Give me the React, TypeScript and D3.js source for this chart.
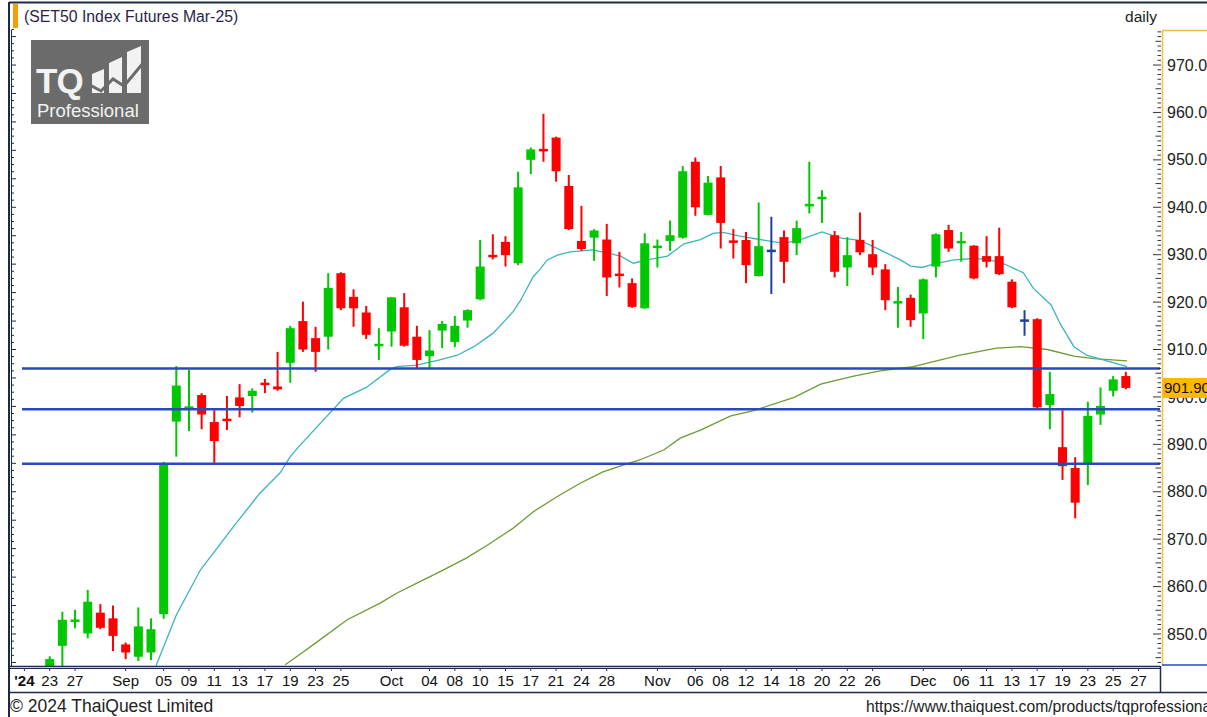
import React from 'react';
import * as d3 from 'd3';

// ---------- DATA ----------
const dates = [
  '2024-08-23','2024-08-26','2024-08-27','2024-08-28','2024-08-29','2024-08-30',
  '2024-09-02','2024-09-03','2024-09-04','2024-09-05','2024-09-06','2024-09-09','2024-09-10','2024-09-11','2024-09-12','2024-09-13',
  '2024-09-16','2024-09-17','2024-09-18','2024-09-19','2024-09-20','2024-09-23','2024-09-24','2024-09-25','2024-09-26','2024-09-27','2024-09-30',
  '2024-10-01','2024-10-02','2024-10-03','2024-10-04','2024-10-07','2024-10-08','2024-10-09','2024-10-10','2024-10-11','2024-10-15',
  '2024-10-16','2024-10-17','2024-10-18','2024-10-21','2024-10-22','2024-10-24','2024-10-25','2024-10-28','2024-10-29','2024-10-30','2024-10-31',
  '2024-11-01','2024-11-04','2024-11-05','2024-11-06','2024-11-07','2024-11-08','2024-11-11','2024-11-12','2024-11-13','2024-11-14','2024-11-15',
  '2024-11-18','2024-11-19','2024-11-20','2024-11-21','2024-11-22','2024-11-25','2024-11-26','2024-11-27','2024-11-28','2024-11-29',
  '2024-12-02','2024-12-03','2024-12-04','2024-12-06','2024-12-09','2024-12-11','2024-12-12','2024-12-13','2024-12-16','2024-12-17',
  '2024-12-18','2024-12-19','2024-12-20','2024-12-23','2024-12-24','2024-12-25','2024-12-26'
];
const opens = [
  842.0,847.5,852.6,850.1,854.5,853.3,847.8,845.2,846.1,854.2,894.8,897.6,900.4,894.7,895.3,899.9,
  900.2,902.9,902.2,907.2,916.0,912.4,912.7,926.1,921.1,917.8,910.8,913.8,918.9,912.7,908.6,914.0,
  911.6,916.1,920.6,929.9,932.7,928.2,950.0,952.2,954.7,944.5,932.9,933.6,933.2,926.0,924.0,918.7,
  931.5,932.9,933.6,949.6,938.4,946.3,933.0,933.1,925.5,930.8,933.7,932.4,940.3,941.8,934.1,927.3,
  933.1,930.1,926.9,919.8,920.9,917.6,927.5,935.2,932.5,931.9,929.7,929.7,924.3,916.1,916.4,898.3,
  889.4,885.0,886.0,896.3,901.3,904.4
];
const highs = [
  845.3,854.7,855.1,859.3,856.3,856.0,848.2,855.6,853.3,886.3,906.5,905.7,900.8,897.2,900.2,902.7,
  901.8,903.8,909.5,915.0,920.1,914.8,926.1,926.3,922.7,919.2,914.5,921.1,921.9,915.0,914.1,916.0,
  917.1,918.5,933.1,934.3,933.9,947.5,952.6,959.7,954.9,946.8,940.3,935.4,936.5,930.6,925.0,934.5,
  933.2,937.2,948.7,950.5,946.6,948.7,935.4,934.8,941.0,938.0,935.1,937.2,949.6,943.6,935.0,933.7,
  938.9,933.1,928.0,923.2,921.6,925.0,934.5,936.3,934.8,932.0,933.9,935.7,924.8,918.3,916.6,905.3,
  897.2,887.3,899.0,902.0,904.4,905.3
];
const lows = [
  840.0,842.0,851.2,849.1,851.0,846.4,844.7,844.3,844.5,853.2,887.4,892.8,893.2,886.1,893.0,895.7,
  896.7,900.8,901.3,903.0,909.5,905.3,910.0,918.3,914.8,912.2,907.8,910.6,910.6,906.0,906.0,910.3,
  910.5,914.6,920.4,929.0,927.5,927.8,947.0,949.6,945.4,935.2,930.8,928.7,921.3,923.1,918.8,918.6,
  927.3,930.8,933.4,938.2,938.3,931.3,929.2,924.0,925.4,921.7,924.0,929.9,938.7,936.7,925.2,923.4,
  929.9,925.7,918.3,914.6,914.8,912.2,925.2,930.6,928.5,924.8,927.3,925.7,918.7,912.9,897.6,893.2,
  882.5,874.4,881.4,894.1,900.1,901.6
];
const closes = [
  844.7,853.0,853.0,856.8,851.3,849.6,846.1,851.6,851.0,885.8,902.4,897.9,896.3,890.7,895.0,898.1,
  901.3,902.6,901.6,914.5,910.0,909.5,923.0,918.7,918.7,913.1,911.1,921.0,910.8,907.8,909.8,915.4,
  915.0,918.3,927.5,929.5,929.9,944.2,952.2,951.9,947.6,935.4,931.2,935.1,925.2,925.5,919.0,932.4,
  931.8,934.1,947.6,940.0,945.2,936.7,932.5,927.8,931.8,930.8,928.5,935.6,940.6,942.1,926.4,929.9,
  930.5,927.3,920.4,920.1,916.2,924.8,934.3,931.3,932.8,925.0,928.5,925.9,918.9,916.1,897.8,900.6,
  885.4,877.7,896.0,898.1,903.7,901.9
];

// fast moving average (cyan): bar position / value
const maFastPos = [8.4,10.0,11.9,14.5,16.6,18.2,19.0,19.8,23.2,25.0,26.9,27.4,29.0,30.8,32.2,33.5,35.0,36.0,36.6,37.2,38.2,38.7,39.3,40.1,41.1,42.9,44.0,45.1,46.1,47.2,48.8,50.1,51.4,52.4,53.2,54.5,56.1,58.0,59.3,61.0,62.5,64.0,65.6,67.2,68.0,68.9,69.8,71.4,73.0,74.0,75.1,76.9,77.7,79.1,79.8,80.9,81.9,83.5,85.1];
const maFastVal = [843.3,854.0,863.5,872.6,879.7,884.0,887.4,889.9,899.7,902.0,905.8,906.4,906.7,907.8,908.8,910.6,913.4,916.2,918.0,920.4,925.4,926.8,928.9,929.9,930.6,931.0,930.4,929.7,928.2,928.9,929.7,932.3,933.2,934.5,934.7,933.9,933.2,932.4,933.2,934.8,933.5,933.0,931.0,928.9,927.6,927.3,928.0,928.9,929.2,929.0,928.4,926.2,922.9,919.4,915.5,910.6,908.8,907.6,906.4];
// slow moving average (olive)
const maSlowPos = [18.6,19.8,20.8,23.5,26.1,27.4,29.2,30.8,32.9,34.5,36.6,38.2,40.1,41.9,43.7,45.3,46.6,48.5,49.8,51.4,53.8,55.6,58.8,60.9,63.5,65.6,68.2,71.9,74.8,76.7,78.8,80.9,82.5,85.1];
const maSlowVal = [843.5,845.8,847.7,853.0,856.5,858.6,861.0,863.1,866.0,868.6,872.3,875.8,879.0,881.8,884.2,885.6,886.7,888.8,891.3,893.0,896.0,897.1,899.9,902.7,904.4,905.5,906.4,908.8,910.3,910.6,910.0,908.6,908.1,907.6];

const supportLevels = [906.0, 897.4, 885.9];
const lastPrice = 901.9;

const tickIndex = [-2,0,2,6,9,11,13,15,17,19,21,23,27,30,32,34,36,38,40,42,44,48,51,53,55,57,59,61,63,65,69,72,74,76,78,80,82,84,86];
const tickLabels = ["'24",'23','27','Sep','05','09','11','13','17','19','23','25','Oct','04','08','10','15','17','21','24','28','Nov','06','08','12','14','18','20','22','26','Dec','06','11','13','17','19','23','25','27'];
const priceTicks = [850,860,870,880,890,900,910,920,930,940,950,960,970];

// ---------- LAYOUT ----------
const W = 1207, H = 717;
const PL = 13, PR = 1160, PT = 29, PB = 666;
const FONT = "'Liberation Sans', Arial, sans-serif";

export default function App() {
  const x = d3.scaleLinear().domain([-2.9, 87.7]).range([PL, PR]);
  const y = d3.scaleLinear().domain([843.25, 977.6]).range([PB, PT]);

  const lineGen = d3.line<[number, number]>().x(d => x(d[0])).y(d => y(d[1]));
  const fastPts = maFastPos.map((p, i) => [p, maFastVal[i]] as [number, number]);
  const slowPts = maSlowPos.map((p, i) => [p, maSlowVal[i]] as [number, number]);

  const minorRight = d3.range(844, 978, 1);
  const minorLeft = d3.range(844, 978, 1.5);

  const bodyW = 9;

  return (
    <svg width={W} height={H} style={{ position: 'absolute', left: 0, top: 0, display: 'block', background: '#fff' }}
      fontFamily={FONT}>
      <defs>
        <clipPath id="plot"><rect x={PL} y={PT} width={PR - PL} height={PB - PT} /></clipPath>
        <clipPath id="page"><rect x={0} y={0} width={W} height={H} /></clipPath>
      </defs>
      <rect x={0} y={0} width={W} height={H} fill="#fff" />

      {/* outer frame */}
      <line x1={9} x2={W} y1={2.5} y2={2.5} stroke="#1c2a4a" strokeWidth={2} />
      <line x1={9} x2={9} y1={2} y2={H} stroke="#1c2a4a" strokeWidth={2} />
      <line x1={11.5} x2={11.5} y1={30} y2={PB} stroke="#1c2a4a" strokeWidth={1} />

      {/* title */}
      <rect x={13} y={4} width={5} height={24} fill="#f5a000" />
      <text x={24} y={22} fontSize={15.8} fill="#2a1f4a">(SET50 Index Futures Mar-25)</text>
      <text x={1157} y={22} fontSize={15.5} fill="#222" textAnchor="end">daily</text>

      {/* logo */}
      <g>
        <rect x={31} y={40} width={118} height={84} fill="#6b6b6b" />
        <text x={36} y={93} fontSize={35} fontWeight="bold" fill="#f2f2f2" letterSpacing={-1}>TQ</text>
        <polygon points="92,93 92,74 104,69 104,93" fill="#f2f2f2" />
        <polygon points="109,93 109,63 122,57 122,93" fill="#f2f2f2" />
        <polygon points="127,93 127,52 141,46 141,93" fill="#f2f2f2" />
        <polyline points="90,85 101,91 113,79 124,86 144,62" fill="none" stroke="#6b6b6b" strokeWidth={3} />
        <text x={37} y={117} fontSize={18.5} fill="#f2f2f2">Professional</text>
      </g>

      {/* left axis ticks */}
      {minorLeft.map((v, i) => (
        <line key={'lt' + i} x1={11.5} x2={i % 4 === 0 ? 16 : 14} y1={y(v)} y2={y(v)} stroke="#1c2a4a" strokeWidth={1} />
      ))}

      {/* plot content */}
      <g clipPath="url(#plot)">
        <path d={lineGen(slowPts) || ''} fill="none" stroke="#6f9a35" strokeWidth={1.3} />
        <path d={lineGen(fastPts) || ''} fill="none" stroke="#3cb4bf" strokeWidth={1.3} />

        {dates.map((d, i) => {
          const o = opens[i], c = closes[i];
          const col = c > o ? '#00c800' : c < o ? '#ff0000' : '#2040a0';
          const cx = x(i);
          const top = y(Math.max(o, c));
          const bot = y(Math.min(o, c));
          const h = Math.max(bot - top, 2.5);
          const ty = bot - top < 2.5 ? (top + bot) / 2 - 1.25 : top;
          return (
            <g key={d}>
              <line x1={cx} x2={cx} y1={y(highs[i])} y2={y(lows[i])} stroke={col} strokeWidth={2} />
              <rect x={cx - bodyW / 2} y={ty} width={bodyW} height={h} fill={col} />
            </g>
          );
        })}

        {supportLevels.map((v, i) => (
          <line key={'s' + i} x1={22} x2={PR} y1={y(v)} y2={y(v)} stroke="#2a49bd" strokeWidth={2.5} />
        ))}
      </g>

      {/* right axis */}
      <line x1={1162.5} x2={1162.5} y1={30} y2={PB} stroke="#f0c040" strokeWidth={1.5} />
      <line x1={1162} x2={W} y1={30.5} y2={30.5} stroke="#f0c040" strokeWidth={1.5} />
      <line x1={1162} x2={W} y1={PB - 1} y2={PB - 1} stroke="#2a49bd" strokeWidth={1.5} />
      {minorRight.map((v, i) => {
        const major = v % 10 === 0;
        const mid = v % 5 === 0;
        return (
          <line key={'rt' + i} x1={major ? 1153 : mid ? 1155.5 : 1157.5} x2={1161} y1={y(v)} y2={y(v)} stroke="#333" strokeWidth={1} />
        );
      })}
      {priceTicks.map(v => (
        <text key={'pl' + v} x={1167} y={y(v)} dy="0.35em" fontSize={16} fill="#222">{v.toFixed(1)}</text>
      ))}
      <rect x={1163} y={y(lastPrice) - 10} width={W - 1163} height={20} fill="#ffb800" />
      <g clipPath="url(#page)">
        <text x={1164} y={y(lastPrice)} dy="0.36em" fontSize={15} fill="#111">{lastPrice.toFixed(2)}</text>
      </g>

      {/* x axis */}
      <line x1={9} x2={PR} y1={PB + 0.5} y2={PB + 0.5} stroke="#1c2a4a" strokeWidth={1.5} />
      <line x1={9} x2={PR} y1={PB + 2.5} y2={PB + 2.5} stroke="#1c2a4a" strokeWidth={1} />
      <line x1={9} x2={W} y1={692.5} y2={692.5} stroke="#1c2a4a" strokeWidth={1.5} />
      <line x1={PR + 0.5} x2={PR + 0.5} y1={PB} y2={693} stroke="#1c2a4a" strokeWidth={1.5} />
      {tickIndex.map((t, i) => (
        <g key={'xt' + i}>
          <line x1={x(t)} x2={x(t)} y1={PB + 2} y2={PB + 5} stroke="#333" strokeWidth={1} />
          <text x={x(t)} y={686} textAnchor="middle" fontSize={15} fill="#111"
            fontWeight={tickLabels[i] === "'24" ? 'bold' : 'normal'}>{tickLabels[i]}</text>
        </g>
      ))}

      {/* footer */}
      <text x={10} y={712} fontSize={17.5} fill="#222">© 2024 ThaiQuest Limited</text>
      <g clipPath="url(#page)">
        <text x={866} y={712} fontSize={15.7} fill="#222">https://www.thaiquest.com/products/tqprofessional</text>
      </g>
    </svg>
  );
}
